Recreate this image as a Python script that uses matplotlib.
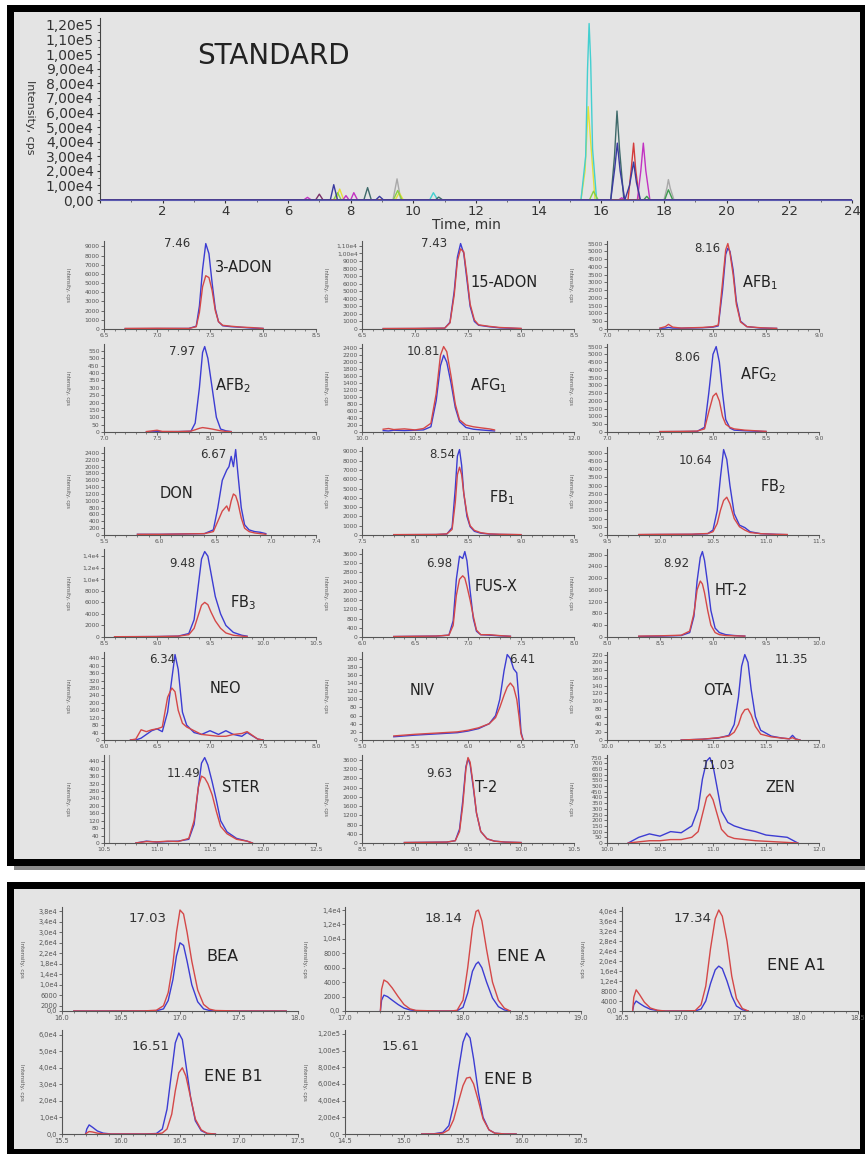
import numpy as np
import matplotlib
matplotlib.use("Agg")
import matplotlib.pyplot as plt
from matplotlib.patches import Rectangle

plt.rcParams['font.family'] = ['DejaVu Sans']

W_PX, H_PX = 865, 1154
BLUE = '#3c3cd2'
RED = '#d44848'
PANEL = '#e4e4e4'

# ---------------- TIC (overview) traces ----------------
tic_grey_t = [0, 9.35, 9.48, 9.60, 18.00, 18.10, 18.14, 18.20, 18.32, 24]
tic_grey_y = [0, 0, 14500, 0, 0, 9000, 14000, 8000, 0, 0]
tic_yellow_t = [0, 7.52, 7.65, 7.78, 9.42, 9.55, 9.68, 15.35, 15.48, 15.58, 15.66, 15.80, 24]
tic_yellow_y = [0, 0, 7500, 0, 0, 5000, 0, 0, 20000, 64000, 40000, 0, 0]
tic_cyan_t = [0, 10.52, 10.64, 10.78, 15.35, 15.50, 15.56, 15.61, 15.66, 15.72, 15.85, 24]
tic_cyan_y = [0, 0, 5000, 0, 0, 30000, 90000, 121000, 95000, 35000, 0, 0]
tic_lime_t = [0, 7.45, 7.58, 7.70, 9.36, 9.50, 9.64, 15.62, 15.75, 15.90, 24]
tic_lime_y = [0, 0, 5000, 0, 0, 6500, 0, 0, 6000, 0, 0]
tic_slate_t = [0, 8.42, 8.54, 8.66, 10.70, 10.81, 10.94, 16.30, 16.42, 16.50, 16.58, 16.72, 24]
tic_slate_y = [0, 0, 8500, 0, 0, 2000, 0, 0, 30000, 61000, 35000, 0, 0]
tic_red_t = [0, 16.85, 16.95, 17.03, 17.10, 17.22, 24]
tic_red_y = [0, 0, 20000, 39000, 20000, 0, 0]
tic_magenta_t = [0, 6.50, 6.62, 6.75, 7.75, 7.85, 7.95, 8.00, 8.10, 8.22,
                 16.55, 16.65, 16.75, 17.15, 17.26, 17.34, 17.42, 17.55, 24]
tic_magenta_y = [0, 0, 1800, 0, 0, 3000, 0, 0, 5000, 0,
                 0, 1500, 0, 0, 20000, 39000, 20000, 0, 0]
tic_green_t = [0, 17.35, 17.45, 17.55, 18.02, 18.14, 18.28, 24]
tic_green_y = [0, 0, 2500, 0, 0, 7000, 0, 0]
tic_plum_t = [0, 6.88, 7.00, 7.12, 24]
tic_plum_y = [0, 0, 4000, 0, 0]
tic_navy_t = [0, 7.35, 7.46, 7.58, 8.80, 8.92, 9.05, 16.30, 16.43, 16.51, 16.60, 16.75,
              16.90, 17.03, 17.12, 17.25, 24]
tic_navy_y = [0, 0, 10500, 0, 0, 2500, 0, 0, 22000, 39000, 20000, 0,
              10000, 26000, 12000, 0, 0]

tic_xticks = list(range(0, 25, 2))
tic_yticks = list(range(0, 120001, 10000))

# ---------------- STANDARD panel: 18 compounds ----------------
adon3_t = [6.70, 7.00, 7.30, 7.37, 7.40, 7.43, 7.46, 7.49, 7.52, 7.55, 7.58, 7.62, 7.70, 7.80, 7.90, 8.00]
adon3_blue = [40, 50, 60, 300, 2500, 6500, 9300, 8200, 5000, 2200, 800, 350, 250, 180, 100, 60]
adon3_red = [60, 80, 60, 250, 1800, 4600, 5800, 5600, 4200, 2000, 800, 400, 300, 200, 150, 60]

adon15_t = [6.70, 7.00, 7.28, 7.33, 7.37, 7.40, 7.43, 7.46, 7.49, 7.52, 7.56, 7.60, 7.70, 7.80, 8.00]
adon15_blue = [50, 60, 100, 900, 5000, 9500, 11300, 10000, 6500, 3000, 1000, 500, 300, 150, 50]
adon15_red = [60, 80, 120, 800, 4500, 9000, 10600, 10200, 7000, 3300, 1200, 550, 350, 200, 80]

afb1_t = [7.50, 7.55, 7.58, 7.62, 7.70, 7.90, 8.00, 8.05, 8.09, 8.12, 8.14, 8.16, 8.19, 8.22, 8.26, 8.32, 8.45, 8.60]
afb1_blue = [40, 60, 100, 60, 50, 80, 120, 200, 2500, 4800, 5200, 5000, 3800, 1800, 500, 150, 60, 40]
afb1_red = [60, 150, 300, 120, 60, 100, 150, 250, 3000, 5100, 5500, 4900, 3500, 1600, 450, 150, 80, 40]

afb2_t = [7.40, 7.50, 7.55, 7.70, 7.82, 7.86, 7.90, 7.93, 7.95, 7.98, 8.02, 8.06, 8.10, 8.15, 8.20]
afb2_blue = [0, 2, 2, 3, 5, 60, 300, 540, 580, 500, 300, 100, 20, 8, 3]
afb2_red = [3, 12, 4, 3, 6, 15, 25, 30, 28, 25, 20, 14, 8, 4, 2]

afg1_t = [10.20, 10.25, 10.30, 10.40, 10.50, 10.58, 10.65, 10.70, 10.74, 10.77, 10.80,
          10.84, 10.88, 10.92, 10.98, 11.05, 11.12, 11.20, 11.25]
afg1_blue = [40, 30, 50, 40, 50, 60, 150, 900, 1900, 2200, 2000, 1400, 700, 300, 130, 80, 60, 40, 30]
afg1_red = [80, 100, 70, 90, 60, 100, 250, 1100, 2200, 2450, 2300, 1600, 800, 350, 200, 150, 120, 90, 60]

afg2_t = [7.50, 7.70, 7.85, 7.92, 7.96, 8.00, 8.03, 8.06, 8.09, 8.12, 8.16, 8.20, 8.30, 8.40, 8.50]
afg2_blue = [20, 30, 40, 300, 2500, 5000, 5500, 4500, 2500, 800, 250, 120, 80, 50, 30]
afg2_red = [30, 40, 60, 200, 1300, 2300, 2500, 2000, 1000, 500, 300, 200, 120, 80, 40]

don_t = [5.80, 6.00, 6.20, 6.40, 6.48, 6.52, 6.56, 6.60, 6.62, 6.64, 6.66, 6.68, 6.70,
         6.73, 6.76, 6.80, 6.85, 6.90, 6.95]
don_blue = [20, 20, 30, 40, 150, 800, 1600, 1900, 2000, 2300, 2000, 2500, 1800, 800, 300, 150, 100, 80, 40]
don_red = [20, 20, 30, 40, 100, 400, 700, 850, 700, 1000, 1200, 1150, 950, 500, 200, 100, 60, 40, 20]

fb1_t = [7.80, 8.00, 8.20, 8.30, 8.35, 8.38, 8.40, 8.42, 8.44, 8.46, 8.49, 8.52, 8.56, 8.62, 8.70, 8.80, 9.00]
fb1_blue = [30, 40, 50, 100, 800, 5000, 8500, 9200, 7500, 4500, 2000, 900, 400, 200, 100, 60, 30]
fb1_red = [40, 50, 60, 120, 600, 3500, 6500, 7300, 6500, 4500, 2300, 1000, 500, 250, 120, 80, 40]

fb2_t = [9.80, 10.00, 10.30, 10.45, 10.50, 10.54, 10.57, 10.60, 10.63, 10.66, 10.70,
         10.75, 10.80, 10.85, 10.95, 11.10, 11.20]
fb2_blue = [20, 30, 40, 80, 300, 1500, 3500, 5200, 4600, 3000, 1300, 600, 450, 200, 80, 40, 20]
fb2_red = [30, 40, 50, 90, 200, 700, 1500, 2100, 2300, 1900, 1000, 500, 300, 150, 80, 40, 30]

fb3_t = [8.60, 8.80, 9.00, 9.20, 9.30, 9.35, 9.39, 9.42, 9.45, 9.48, 9.51, 9.55, 9.60, 9.65, 9.72, 9.80, 9.85]
fb3_blue = [50, 60, 80, 150, 600, 3000, 9000, 13500, 14800, 14000, 11000, 7000, 4000, 2000, 800, 300, 150]
fb3_red = [50, 60, 80, 150, 400, 1500, 3800, 5500, 6000, 5600, 4300, 2800, 1500, 700, 300, 150, 80]

fusx_t = [6.30, 6.50, 6.70, 6.82, 6.86, 6.89, 6.92, 6.95, 6.97, 6.99, 7.02, 7.05, 7.08, 7.12, 7.20, 7.30, 7.40]
fusx_blue = [20, 30, 40, 80, 700, 2500, 3500, 3400, 3700, 3300, 2000, 800, 250, 100, 80, 50, 30]
fusx_red = [20, 30, 40, 80, 500, 1800, 2500, 2650, 2550, 2200, 1600, 900, 300, 100, 100, 60, 30]

ht2_t = [8.30, 8.50, 8.70, 8.78, 8.82, 8.85, 8.88, 8.90, 8.92, 8.95, 8.98, 9.02, 9.06, 9.12, 9.20, 9.30]
ht2_blue = [20, 30, 50, 150, 700, 1900, 2700, 2900, 2600, 1800, 900, 300, 150, 80, 50, 30]
ht2_red = [30, 40, 60, 200, 800, 1600, 1900, 1800, 1500, 900, 400, 150, 80, 50, 40, 30]

neo_t = [6.25, 6.30, 6.35, 6.40, 6.45, 6.50, 6.55, 6.60, 6.64, 6.67, 6.70, 6.74, 6.78,
         6.85, 6.92, 7.00, 7.08, 7.15, 7.22, 7.30, 7.35, 7.45, 7.50]
neo_blue = [0, 0, 10, 30, 50, 60, 45, 150, 330, 460, 380, 150, 80, 40, 30, 50, 30, 50, 30, 20, 40, 5, 0]
neo_red = [0, 5, 55, 45, 55, 60, 70, 230, 280, 260, 160, 90, 70, 50, 30, 25, 20, 20, 30, 35, 45, 5, 0]

niv_t = [5.30, 5.50, 5.70, 5.90, 6.00, 6.10, 6.20, 6.26, 6.30, 6.34, 6.37, 6.40, 6.43, 6.46, 6.48, 6.50, 6.52]
niv_blue = [8, 12, 15, 18, 22, 28, 40, 60, 100, 170, 210, 200, 175, 165, 100, 20, 0]
niv_red = [10, 14, 17, 20, 24, 30, 40, 55, 80, 110, 130, 140, 130, 100, 60, 15, 0]

ota_t = [10.70, 10.90, 11.05, 11.15, 11.20, 11.24, 11.27, 11.30, 11.33, 11.36, 11.40,
         11.45, 11.55, 11.65, 11.72, 11.75, 11.78, 11.82]
ota_blue = [0, 2, 5, 12, 40, 110, 190, 220, 200, 130, 60, 25, 10, 5, 3, 12, 3, 0]
ota_red = [0, 2, 6, 10, 20, 40, 65, 78, 80, 65, 35, 15, 8, 5, 3, 6, 2, 0]

ster_t = [10.80, 10.90, 11.00, 11.10, 11.20, 11.30, 11.35, 11.39, 11.42, 11.45, 11.48,
          11.52, 11.56, 11.60, 11.66, 11.75, 11.85, 11.90]
ster_blue = [0, 10, 5, 8, 10, 20, 100, 300, 430, 460, 420, 330, 230, 120, 60, 25, 10, 0]
ster_red = [0, 8, 6, 10, 8, 25, 120, 300, 360, 350, 320, 260, 170, 90, 50, 20, 10, 0]
ster_marker = 10.55

t2_t = [8.90, 9.10, 9.30, 9.38, 9.42, 9.45, 9.48, 9.50, 9.52, 9.55, 9.58, 9.62, 9.68, 9.75, 9.85, 10.00]
t2_blue = [20, 30, 40, 100, 600, 1800, 3300, 3650, 3400, 2400, 1300, 500, 180, 80, 40, 20]
t2_red = [20, 30, 40, 100, 500, 1600, 3200, 3700, 3500, 2500, 1300, 500, 180, 80, 40, 20]

zen_t = [10.20, 10.30, 10.40, 10.50, 10.60, 10.70, 10.80, 10.86, 10.90, 10.94, 10.97, 11.00,
         11.04, 11.08, 11.14, 11.20, 11.30, 11.40, 11.50, 11.60, 11.70, 11.80]
zen_blue = [0, 50, 80, 60, 100, 90, 150, 300, 560, 720, 750, 680, 480, 280, 180, 150, 120, 100, 70, 60, 50, 0]
zen_red = [0, 10, 20, 20, 30, 30, 50, 100, 250, 400, 430, 380, 250, 120, 60, 40, 30, 20, 15, 10, 5, 0]

# ---------------- second panel: enniatins / beauvericin ----------------
bea_t = [16.10, 16.40, 16.70, 16.80, 16.86, 16.90, 16.94, 16.97, 17.00, 17.03, 17.06,
         17.10, 17.15, 17.20, 17.25, 17.30, 17.50, 17.90]
bea_blue = [0, 0, 0, 100, 800, 4000, 12000, 21000, 26000, 25000, 19000, 10000, 3500, 800, 200, 0, 0, 0]
bea_red = [0, 0, 50, 300, 2000, 7000, 18000, 30000, 38500, 37000, 30000, 19000, 8000, 2500, 700, 200, 0, 0]

enea_t = [17.30, 17.31, 17.33, 17.36, 17.40, 17.45, 17.50, 17.55, 17.60, 17.80, 17.90, 17.95,
          18.00, 18.04, 18.08, 18.11, 18.13, 18.16, 18.20, 18.25, 18.30, 18.35, 18.40]
enea_blue = [0, 1500, 2200, 2000, 1500, 900, 400, 150, 50, 0, 0, 50, 500, 2500, 5500, 6500,
             6800, 6000, 4000, 1800, 600, 150, 0]
enea_red = [0, 3000, 4300, 4000, 3200, 2000, 900, 300, 80, 0, 0, 100, 1500, 6000, 11500,
            13800, 14000, 12500, 8500, 4000, 1500, 400, 0]

enea1_t = [16.59, 16.60, 16.62, 16.65, 16.69, 16.74, 16.80, 16.87, 17.00, 17.12, 17.17,
           17.21, 17.25, 17.29, 17.32, 17.35, 17.39, 17.43, 17.47, 17.52, 17.57]
enea1_blue = [0, 2500, 4000, 3000, 1800, 700, 200, 0, 0, 50, 800, 4000, 11000, 16500,
              18000, 17000, 12000, 6000, 2000, 500, 0]
enea1_red = [0, 5500, 8500, 6500, 3500, 1200, 300, 0, 0, 150, 2500, 10000, 25000, 37000,
             40500, 38000, 28000, 14000, 5000, 1000, 0]

eneb1_t = [15.70, 15.71, 15.73, 15.76, 15.80, 15.85, 15.92, 16.20, 16.30, 16.35, 16.39,
           16.43, 16.46, 16.49, 16.52, 16.55, 16.59, 16.63, 16.68, 16.73, 16.80]
eneb1_blue = [0, 3000, 5500, 4000, 1800, 500, 0, 0, 300, 3000, 15000, 38000, 55000, 61000,
              57000, 42000, 22000, 8000, 2000, 300, 0]
eneb1_red = [0, 600, 1500, 1200, 500, 100, 0, 0, 100, 600, 3000, 12000, 26000, 37000,
             40000, 35000, 22000, 9000, 2500, 400, 0]

eneb_t = [15.15, 15.25, 15.33, 15.38, 15.42, 15.46, 15.50, 15.53, 15.56, 15.59, 15.63,
          15.67, 15.72, 15.77, 15.85, 15.95]
eneb_blue = [0, 200, 2000, 10000, 35000, 75000, 110000, 121000, 115000, 90000, 50000,
             20000, 5000, 1000, 100, 0]
eneb_red = [0, 100, 1000, 5000, 17000, 38000, 58000, 67000, 68000, 60000, 40000, 18000,
            5000, 1000, 100, 0]


def px_axes(fig, left, bottom, width, height):
    return fig.add_axes([left / W_PX, 1 - bottom / H_PX, width / W_PX, height / H_PX])


def tick_label(v, digits, zero):
    if v == 0:
        return zero
    if v < 1e4 or digits == 0:
        return str(int(v))
    exp = int(np.floor(np.log10(v)))
    return f"{v / 10 ** exp:.{digits}f}e{exp}".replace('.', ',')


def chrom(ax, p, rt_xy, name_xy, small):
    ax.set_facecolor('none')
    ax.plot(p['t'], p['b'], color=BLUE, lw=1.0, zorder=3)
    ax.plot(p['t'], p['r'], color=RED, lw=1.0, zorder=4)
    if p.get('marker'):
        ax.axvline(p['marker'], color='#9a9a9a', lw=0.8, zorder=2)
    ax.set_xlim(p['x'])
    top = max(max(p['b']), max(p['r']), p['yt'][-1]) * 1.03
    ax.set_ylim(0, top)
    xt = np.arange(p['x'][0], p['x'][1] + 1e-6, 0.5) if 'xt' not in p else p['xt']
    ax.set_xticks(xt, [f"{v:.1f}" for v in xt])
    ax.set_xticks(np.arange(p['x'][0], p['x'][1] + 1e-6, 0.1), minor=True)
    ax.set_yticks(p['yt'], [tick_label(v, p['dig'], p['zero']) for v in p['yt']])
    fs = 4.3 if small else 4.8
    ax.tick_params(axis='both', labelsize=fs, colors='#555555', length=2, width=0.6, pad=1.2)
    ax.tick_params(axis='x', which='minor', length=1.3, width=0.5, colors='#555555')
    for s in ('top', 'right'):
        ax.spines[s].set_visible(False)
    for s in ('left', 'bottom'):
        ax.spines[s].set_color('#555555')
        ax.spines[s].set_linewidth(0.8)
    ax.text(-0.17, 0.5, 'Intensity, cps', transform=ax.transAxes, rotation=270,
            fontsize=3.6 if small else 4.0, color='#555555', ha='center', va='center')
    ax.text(rt_xy[0], rt_xy[1], p['rt'], transform=ax.transAxes, ha='right', va='center',
            fontsize=8.5 if small else 9.5, color='#333333')
    ax.text(name_xy[0], name_xy[1], p['name'], transform=ax.transAxes, ha='left', va='center',
            fontsize=10.5 if small else 11.5, color='#222222')


def main():
    fig = plt.figure(figsize=(W_PX / 100, H_PX / 100), dpi=100)
    fig.patch.set_facecolor('white')

    lw_border = 7 * 72 / 100
    # panel frames (pixel coords -> figure fraction)
    for (x0, y0, x1, y1) in [(9.5, 7.5, 862.5, 861.5), (9.5, 884.5, 862.5, 1151.5)]:
        fig.add_artist(Rectangle((x0 / W_PX, 1 - y1 / H_PX), (x1 - x0) / W_PX, (y1 - y0) / H_PX,
                                 transform=fig.transFigure, facecolor=PANEL, edgecolor='black',
                                 lw=lw_border, zorder=-5))
    fig.add_artist(Rectangle((14 / W_PX, 1 - 870 / H_PX), 851 / W_PX, 5 / H_PX,
                             transform=fig.transFigure, facecolor='#8a8a8a', edgecolor='none', zorder=-6))

    # ---- overview TIC ----
    ax0 = px_axes(fig, 100, 200, 752, 182)
    ax0.set_facecolor('none')
    traces = [(tic_grey_t, tic_grey_y, '#a9a9a9'), (tic_yellow_t, tic_yellow_y, '#e6e03a'),
              (tic_cyan_t, tic_cyan_y, '#43cfd0'), (tic_lime_t, tic_lime_y, '#86cf45'),
              (tic_slate_t, tic_slate_y, '#3f6a6a'), (tic_red_t, tic_red_y, '#d43b3b'),
              (tic_magenta_t, tic_magenta_y, '#c232c2'), (tic_green_t, tic_green_y, '#3f9a50'),
              (tic_plum_t, tic_plum_y, '#7a3068'), (tic_navy_t, tic_navy_y, '#3a3aa0')]
    for t, y, c in traces:
        ax0.plot(t, y, color=c, lw=1.0)
    ax0.set_xlim(0, 24)
    ax0.set_ylim(0, 124800)
    ax0.set_xticks(tic_xticks, ['' if v == 0 else str(v) for v in tic_xticks])
    ax0.set_xticks(range(0, 25), minor=True)
    ax0.set_yticks(tic_yticks, ['0,00' if v == 0 else tick_label(v, 2, '') for v in tic_yticks])
    ax0.set_yticks(range(0, 120001, 5000), minor=True)
    ax0.tick_params(axis='y', labelsize=10, colors='#333333', length=2.5, width=0.8, pad=2)
    ax0.tick_params(axis='x', labelsize=9.5, colors='#333333', length=2.5, width=0.8, pad=1)
    ax0.tick_params(which='minor', length=1.5, width=0.6, colors='#555555')
    for s in ('top', 'right'):
        ax0.spines[s].set_visible(False)
    ax0.spines['left'].set_color('#444444')
    ax0.spines['bottom'].set_color('#5a5ab0')
    fig.text(273 / W_PX, 1 - 56 / H_PX, 'STANDARD', fontsize=20,
             ha='center', va='center', color='#222222')
    fig.text(30 / W_PX, 1 - 117 / H_PX, 'Intensity, cps', rotation=270, fontsize=8,
             ha='center', va='center', color='#333333')
    fig.text(466 / W_PX, 1 - 225 / H_PX, 'Time, min', fontsize=10, ha='center', va='center',
             color='#333333')

    # ---- 18 compound panels ----
    def yt(step, n):
        return [step * i for i in range(n + 1)]

    top_panels = [
        dict(t=adon3_t, b=adon3_blue, r=adon3_red, x=(6.5, 8.5), yt=yt(1000, 9), dig=0, zero='0', rt='7.46', name='3-ADON'),
        dict(t=adon15_t, b=adon15_blue, r=adon15_red, x=(6.5, 8.5), yt=yt(1000, 11), dig=2, zero='0', rt='7.43', name='15-ADON'),
        dict(t=afb1_t, b=afb1_blue, r=afb1_red, x=(7.0, 9.0), yt=yt(500, 11), dig=0, zero='0', rt='8.16', name='AFB$_1$'),
        dict(t=afb2_t, b=afb2_blue, r=afb2_red, x=(7.0, 9.0), yt=yt(50, 11), dig=0, zero='0', rt='7.97', name='AFB$_2$'),
        dict(t=afg1_t, b=afg1_blue, r=afg1_red, x=(10.0, 12.0), yt=yt(200, 12), dig=0, zero='0', rt='10.81', name='AFG$_1$'),
        dict(t=afg2_t, b=afg2_blue, r=afg2_red, x=(7.0, 9.0), yt=yt(500, 11), dig=0, zero='0', rt='8.06', name='AFG$_2$'),
        dict(t=don_t, b=don_blue, r=don_red, x=(5.5, 7.4), xt=[5.5, 6.0, 6.5, 7.0, 7.4], yt=yt(200, 12), dig=0, zero='0', rt='6.67', name='DON'),
        dict(t=fb1_t, b=fb1_blue, r=fb1_red, x=(7.5, 9.5), yt=yt(1000, 9), dig=0, zero='0', rt='8.54', name='FB$_1$'),
        dict(t=fb2_t, b=fb2_blue, r=fb2_red, x=(9.5, 11.5), yt=yt(500, 10), dig=0, zero='0', rt='10.64', name='FB$_2$'),
        dict(t=fb3_t, b=fb3_blue, r=fb3_red, x=(8.5, 10.5), yt=yt(2000, 7), dig=1, zero='0', rt='9.48', name='FB$_3$'),
        dict(t=fusx_t, b=fusx_blue, r=fusx_red, x=(6.0, 8.0), yt=yt(400, 9), dig=0, zero='0', rt='6.98', name='FUS-X'),
        dict(t=ht2_t, b=ht2_blue, r=ht2_red, x=(8.0, 10.0), yt=yt(400, 7), dig=0, zero='0', rt='8.92', name='HT-2'),
        dict(t=neo_t, b=neo_blue, r=neo_red, x=(6.0, 8.0), yt=yt(40, 11), dig=0, zero='0', rt='6.34', name='NEO'),
        dict(t=niv_t, b=niv_blue, r=niv_red, x=(5.0, 7.0), yt=yt(20, 10), dig=0, zero='0', rt='6.41', name='NIV'),
        dict(t=ota_t, b=ota_blue, r=ota_red, x=(10.0, 12.0), yt=yt(20, 11), dig=0, zero='0', rt='11.35', name='OTA'),
        dict(t=ster_t, b=ster_blue, r=ster_red, x=(10.5, 12.5), yt=yt(40, 11), dig=0, zero='0', rt='11.49', name='STER', marker=ster_marker),
        dict(t=t2_t, b=t2_blue, r=t2_red, x=(8.5, 10.5), yt=yt(400, 9), dig=0, zero='0', rt='9.63', name='T-2'),
        dict(t=zen_t, b=zen_blue, r=zen_red, x=(10.0, 12.0), yt=yt(50, 15), dig=0, zero='0', rt='11.03', name='ZEN'),
    ]
    top_label_pos = [
        ((0.406, 0.977), (0.524, 0.70)), ((0.40, 0.977), (0.51, 0.53)), ((0.533, 0.92), (0.637, 0.53)),
        ((0.43, 0.91), (0.524, 0.53)), ((0.368, 0.91), (0.51, 0.53)), ((0.44, 0.85), (0.627, 0.65)),
        ((0.575, 0.91), (0.264, 0.47)), ((0.44, 0.91), (0.60, 0.43)), ((0.495, 0.85), (0.72, 0.545)),
        ((0.43, 0.83), (0.594, 0.39)), ((0.425, 0.84), (0.533, 0.57)), ((0.39, 0.84), (0.51, 0.53)),
        ((0.335, 0.91), (0.50, 0.59)), ((0.816, 0.91), (0.226, 0.557)), ((0.948, 0.91), (0.453, 0.557)),
        ((0.453, 0.795), (0.557, 0.625)), ((0.425, 0.795), (0.533, 0.636)), ((0.604, 0.886), (0.745, 0.636)),
    ]
    col_left = [104, 362, 607]
    row_bottom = [329, 432, 535, 637, 740, 843]
    for i, p in enumerate(top_panels):
        ax = px_axes(fig, col_left[i % 3], row_bottom[i // 3], 212, 88)
        chrom(ax, p, *top_label_pos[i], small=True)

    # ---- enniatins / BEA ----
    bottom_panels = [
        dict(t=bea_t, b=bea_blue, r=bea_red, x=(16.0, 18.0), yt=[0, 2000] + [6000 + 4000 * i for i in range(9)], dig=1, zero='0,0', rt='17.03', name='BEA'),
        dict(t=enea_t, b=enea_blue, r=enea_red, x=(17.0, 19.0), yt=yt(2000, 7), dig=1, zero='0,0', rt='18.14', name='ENE A'),
        dict(t=enea1_t, b=enea1_blue, r=enea1_red, x=(16.5, 18.5), yt=yt(4000, 10), dig=1, zero='0,0', rt='17.34', name='ENE A1'),
        dict(t=eneb1_t, b=eneb1_blue, r=eneb1_red, x=(15.5, 17.5), yt=yt(10000, 6), dig=1, zero='0,0', rt='16.51', name='ENE B1'),
        dict(t=eneb_t, b=eneb_blue, r=eneb_red, x=(14.5, 16.5), yt=yt(20000, 6), dig=2, zero='0,0', rt='15.61', name='ENE B'),
    ]
    bottom_label_pos = [
        ((0.445, 0.894), (0.61, 0.52)), ((0.496, 0.894), (0.643, 0.52)), ((0.378, 0.894), (0.613, 0.44)),
        ((0.454, 0.846), (0.60, 0.55)), ((0.315, 0.846), (0.588, 0.52)),
    ]
    b_left = [62, 345, 622]
    b_bottom = [1011, 1134]
    for i, p in enumerate(bottom_panels):
        ax = px_axes(fig, b_left[i % 3], b_bottom[i // 3], 236, 104)
        chrom(ax, p, *bottom_label_pos[i], small=False)

    fig.savefig('out.png', dpi=100)


if __name__ == "__main__":
    main()
